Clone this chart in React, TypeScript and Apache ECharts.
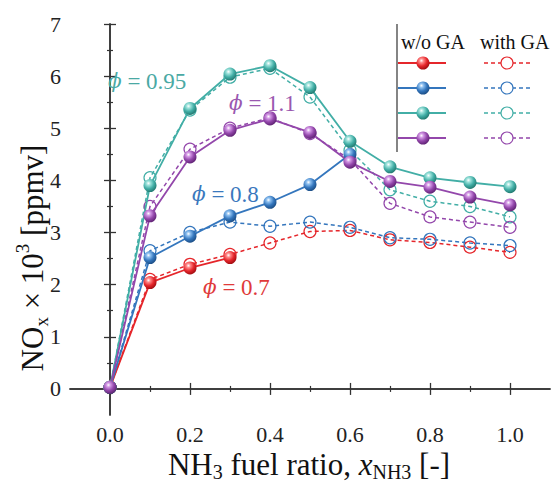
import React, { useEffect, useRef } from "react";
import * as echarts from "echarts";

const X = [0, 0.1, 0.2, 0.3, 0.4, 0.5, 0.6, 0.7, 0.8, 0.9, 1.0];

// phi = 0.7
const redNoGA = [0.03, 2.04, 2.32, 2.52];
const redGA = [0.03, 2.1, 2.39, 2.58, 2.8, 3.02, 3.04, 2.86, 2.81, 2.72, 2.62];
// phi = 0.8
const blueNoGA = [0.03, 2.52, 2.93, 3.32, 3.58, 3.92, 4.5];
const blueGA = [0.03, 2.65, 3.0, 3.2, 3.12, 3.2, 3.1, 2.9, 2.87, 2.8, 2.75];
// phi = 0.95
const tealNoGA = [0.03, 3.9, 5.38, 6.04, 6.2, 5.78, 4.75, 4.26, 4.05, 3.96, 3.88];
const tealGA = [0.03, 4.05, 5.35, 5.98, 6.15, 5.6, 4.58, 3.82, 3.6, 3.5, 3.3];
// phi = 1.1
const purpleNoGA = [0.03, 3.32, 4.45, 4.96, 5.18, 4.92, 4.35, 3.98, 3.87, 3.68, 3.53];
const purpleGA = [0.03, 3.5, 4.6, 5.0, 5.2, 4.9, 4.4, 3.56, 3.3, 3.2, 3.1];

const xMajor = [0, 0.2, 0.4, 0.6, 0.8, 1.0];
const xMinor = [0.1, 0.3, 0.5, 0.7, 0.9];
const yMajor = [0, 1, 2, 3, 4, 5, 6, 7];
const yMinor = [0.5, 1.5, 2.5, 3.5, 4.5, 5.5, 6.5];

const phiLabels = ["0.7", "0.8", "0.95", "1.1"];

const RED = "#e5262b";
const BLUE = "#3476bd";
const TEAL = "#42aea6";
const PURPLE = "#9347ab";

const FONT = '"Liberation Serif", "Times New Roman", serif';

function sphere(c: string, light: string, dark: string) {
  return {
    type: "radial",
    x: 0.38,
    y: 0.32,
    r: 0.7,
    colorStops: [
      { offset: 0, color: "#ffffff" },
      { offset: 0.22, color: light },
      { offset: 0.6, color: c },
      { offset: 1, color: dark },
    ],
  };
}

const COLORS = [
  { c: RED, light: "#ff8a8a", dark: "#a00c10" },
  { c: BLUE, light: "#8ec0f0", dark: "#1b4d85" },
  { c: TEAL, light: "#9fe3dc", dark: "#21786f" },
  { c: PURPLE, light: "#d49ae6", dark: "#5f2273" },
];

function pts(vals: number[]) {
  return vals.map((v, i) => [X[i], v]);
}

export default function App() {
  const ref = useRef<HTMLDivElement>(null);
  useEffect(() => {
    if (!ref.current) return;
    const chart = echarts.init(ref.current, undefined, { renderer: "svg" });
    const solids = [redNoGA, blueNoGA, tealNoGA, purpleNoGA];
    const dashes = [redGA, blueGA, tealGA, purpleGA];

    const series: any[] = [];
    dashes.forEach((d, k) => {
      series.push({
        type: "line",
        name: `phi=${phiLabels[k]} with GA`,
        data: pts(d),
        symbol: "circle",
        symbolSize: 12,
        lineStyle: { color: COLORS[k].c, width: 1.5, type: [4, 3] },
        itemStyle: { color: "rgba(255,255,255,0)", borderColor: COLORS[k].c, borderWidth: 1.2 },
        z: 2,
      });
    });
    solids.forEach((d, k) => {
      series.push({
        type: "line",
        name: `phi=${phiLabels[k]} w/o GA`,
        data: pts(d),
        symbol: "circle",
        symbolSize: 13,
        lineStyle: { color: COLORS[k].c, width: 1.8 },
        itemStyle: { color: sphere(COLORS[k].c, COLORS[k].light, COLORS[k].dark) },
        z: 3,
      });
    });

    const axisLineStyle = { color: "#333", width: 1.5 };
    const xBase = { type: "value", min: -0.1, max: 1.1, splitLine: { show: false } };
    const yBase = { type: "value", min: -0.5, max: 7, splitLine: { show: false } };

    const legendRows = [63, 88, 113, 138];
    const legendEls: any[] = [
      { type: "rect", shape: { x: 397, y: 25, width: 155, height: 127 }, style: { fill: "#fff" }, z: 100 },
      { type: "line", shape: { x1: 397, y1: 24, x2: 397, y2: 152 }, style: { stroke: "#333", lineWidth: 1.2 }, z: 101 },
      { type: "text", x: 401, y: 42, style: { text: "w/o GA", font: `20px ${FONT}`, fill: "#111", verticalAlign: "middle" }, z: 101 },
      { type: "text", x: 480, y: 42, style: { text: "with GA", font: `20px ${FONT}`, fill: "#111", verticalAlign: "middle" }, z: 101 },
    ];
    legendRows.forEach((y, k) => {
      const col = COLORS[k];
      legendEls.push(
        { type: "line", shape: { x1: 398, y1: y, x2: 446, y2: y }, style: { stroke: col.c, lineWidth: 1.8 }, z: 101 },
        { type: "circle", shape: { cx: 423, cy: y, r: 6.5 }, style: { fill: sphere(col.c, col.light, col.dark) }, z: 102 },
        { type: "line", shape: { x1: 484, y1: y, x2: 533, y2: y }, style: { stroke: col.c, lineWidth: 1.4, lineDash: [4, 3] }, z: 101 },
        { type: "circle", shape: { cx: 507, cy: y, r: 6 }, style: { fill: "#fff", stroke: col.c, lineWidth: 1.1 }, z: 102 }
      );
    });

    const annot = (txt: string, x: number, y: number, color: string) => ({
      type: "text",
      x,
      y,
      z: 50,
      style: {
        text: `{i|ϕ}{n| = ${txt}}`,
        verticalAlign: "middle",
        rich: {
          i: { fontFamily: '"DejaVu Serif", ' + FONT, fontSize: 20, fontStyle: "italic", fill: color, color },
          n: { fontFamily: FONT, fontSize: 23, fill: color, color },
        },
      },
    });

    const option: any = {
      animation: false,
      backgroundColor: "#fff",
      grid: { left: 70, right: 2, top: 24, bottom: 67, containLabel: false },
      xAxis: [
        {
          ...xBase,
          position: "bottom",
          axisLine: { show: true, lineStyle: axisLineStyle },
          axisTick: { show: true, inside: true, length: 6, customValues: xMajor, lineStyle: { color: "#333", width: 1.3 } },
          axisLabel: { show: true, customValues: xMajor, formatter: (v: number) => v.toFixed(1), fontFamily: FONT, fontSize: 22, color: "#222", margin: 8 },
        },
        {
          ...xBase,
          position: "bottom",
          axisLine: { show: false },
          axisTick: { show: true, inside: true, length: 3, customValues: xMinor, lineStyle: { color: "#333", width: 1.2 } },
          axisLabel: { show: false },
        },
        {
          ...xBase,
          position: "top",
          axisLine: { show: true, lineStyle: axisLineStyle },
          axisTick: { show: true, inside: true, length: 6, customValues: xMajor, lineStyle: { color: "#333", width: 1.3 } },
          axisLabel: { show: false },
        },
        {
          ...xBase,
          position: "top",
          axisLine: { show: false },
          axisTick: { show: true, inside: true, length: 3, customValues: xMinor, lineStyle: { color: "#333", width: 1.2 } },
          axisLabel: { show: false },
        },
      ],
      yAxis: [
        {
          ...yBase,
          position: "left",
          axisLine: { show: true, lineStyle: axisLineStyle },
          axisTick: { show: true, inside: true, length: 6, customValues: yMajor, lineStyle: { color: "#333", width: 1.3 } },
          axisLabel: { show: true, customValues: yMajor, fontFamily: FONT, fontSize: 22, color: "#222", margin: 9 },
        },
        {
          ...yBase,
          position: "left",
          axisLine: { show: false },
          axisTick: { show: true, inside: true, length: 3, customValues: yMinor, lineStyle: { color: "#333", width: 1.2 } },
          axisLabel: { show: false },
        },
        {
          ...yBase,
          position: "right",
          axisLine: { show: true, lineStyle: axisLineStyle },
          axisTick: { show: true, inside: true, length: 6, customValues: yMajor, lineStyle: { color: "#333", width: 1.3 } },
          axisLabel: { show: false },
        },
        {
          ...yBase,
          position: "right",
          axisLine: { show: false },
          axisTick: { show: true, inside: true, length: 3, customValues: yMinor, lineStyle: { color: "#333", width: 1.2 } },
          axisLabel: { show: false },
        },
      ],
      series,
      graphic: [
        annot("0.95", 108, 81, "#4aa9a4"),
        annot("1.1", 229, 103, "#9a58b0"),
        annot("0.8", 192, 194, "#3a78bd"),
        annot("0.7", 203, 287, "#e03a3a"),
        {
          type: "text",
          x: 32,
          y: 258,
          rotation: Math.PI / 2,
          style: {
            text: "{a|NO}{s|x}{a| × 10}{p|3}{a| [ppmv]}",
            align: "center",
            verticalAlign: "middle",
            rich: {
              a: { fontFamily: FONT, fontSize: 31, lineHeight: 38, fill: "#111", color: "#111" },
              s: { fontFamily: FONT, fontSize: 19, lineHeight: 19, verticalAlign: "bottom", fill: "#111", color: "#111" },
              p: { fontFamily: FONT, fontSize: 19, lineHeight: 19, verticalAlign: "top", fill: "#111", color: "#111" },
            },
          },
        },
        {
          type: "text",
          x: 309,
          y: 464,
          style: {
            text: "{a|NH}{s|3}{a| fuel ratio, }{i|x}{s|NH3}{a| [-]}",
            align: "center",
            verticalAlign: "middle",
            rich: {
              a: { fontFamily: FONT, fontSize: 31, lineHeight: 36, fill: "#111", color: "#111" },
              i: { fontFamily: FONT, fontSize: 31, lineHeight: 36, fontStyle: "italic", fill: "#111", color: "#111" },
              s: { fontFamily: FONT, fontSize: 20, lineHeight: 20, verticalAlign: "bottom", fill: "#111", color: "#111" },
            },
          },
        },
        ...legendEls,
      ],
    };
    chart.setOption(option);
    return () => chart.dispose();
  }, []);
  return <div ref={ref} style={{ width: 552, height: 482, position: "absolute", left: 0, top: 0 }} />;
}
